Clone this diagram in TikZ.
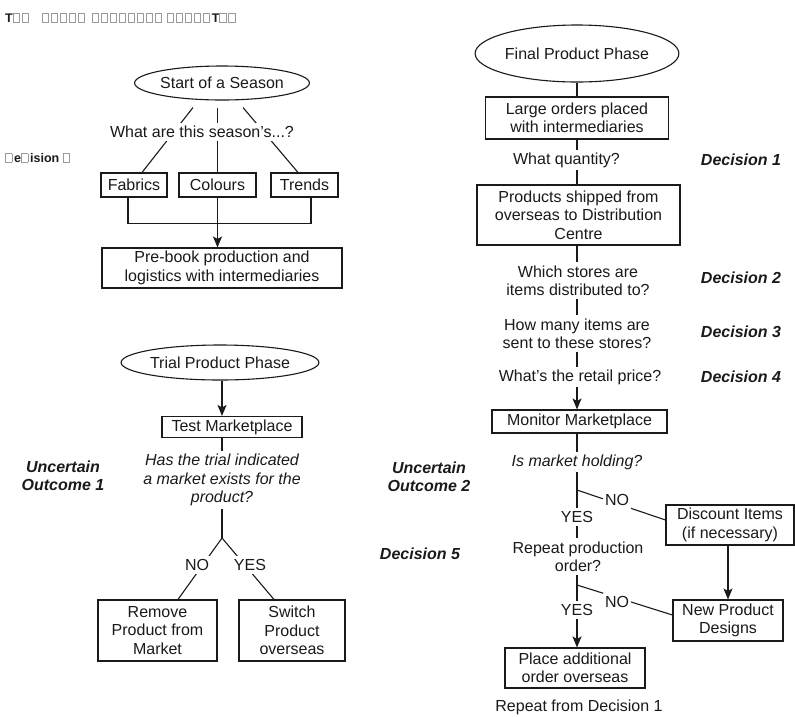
\documentclass[tikz,border=0pt]{standalone}
\usepackage{fontspec}
\setmainfont{Liberation Sans}
\usetikzlibrary{arrows.meta,calc,shapes.geometric}
\definecolor{ink}{HTML}{1A1A1A}
\definecolor{tofugray}{HTML}{9A9A9A}
% placeholder box for a glyph the font could not supply
\newcommand\tofu{{\color{tofugray}\fboxsep=0pt\fboxrule=0.6pt\fbox{\rule{0pt}{8pt}\hspace{6pt}}}\kern1.8pt}
\newcommand\bodyfont{\fontsize{16}{18.4}\selectfont}

\begin{document}
\begin{tikzpicture}[x=1pt,y=-1pt,
  every node/.style={font=\bodyfont, text=ink},
  conn/.style={draw=ink, line width=1.1pt},
  arr/.style={conn, -{Stealth[length=11pt,width=9pt,inset=2.5pt]}},
  box/.style={draw=ink, line width=1.1pt, align=center, inner sep=0pt},
  oval/.style={draw=ink, line width=1.1pt, ellipse, inner sep=0pt},
  lbl/.style={fill=white, align=center, inner xsep=2pt, inner ysep=3pt},
  quest/.style={lbl, font=\bodyfont\itshape},
  dec/.style={align=center, font=\bodyfont\bfseries\itshape},
  tofutext/.style={anchor=base west, inner sep=0pt, font=\fontsize{12.5}{14}\selectfont\bfseries},
]
\fill[white] (0,0) rectangle (795,716);
\useasboundingbox (0,0) rectangle (795,716);

% ---------- heading ----------
\node[tofutext] (title) at (5,22)
  {T\tofu\tofu\hspace{11pt}\tofu\tofu\tofu\tofu\tofu\hspace{5pt}\tofu\tofu\tofu\tofu\tofu\tofu\tofu\tofu\hspace{3pt}\tofu\tofu\tofu\tofu\tofu T\tofu\tofu};
\node[tofutext] (dec0) at (5,162) {\tofu e\tofu ision \tofu};

% ---------- season start ----------
\node[oval, minimum width=165, minimum height=34] (start) at (222,83) {Start of a Season};
\node[box, minimum width=66, minimum height=24] (fab) at (134,185) {Fabrics};
\node[box, minimum width=77, minimum height=24] (col) at (217.5,185) {Colours};
\node[box, minimum width=67, minimum height=24] (tre) at (304.5,185) {Trends};
\node[box, minimum width=240, minimum height=40] (pre) at (222,268) {Pre-book production and\\logistics with intermediaries};

\draw[conn] ($(start.south)+(-29,7)$) -- ($(fab.north)+(8,0)$);
\draw[conn] ($(start.south)+(-4.5,7)$) -- (col.north);
\draw[conn] ($(start.south)+(21,7)$) -- ($(tre.north)+(-6.5,0)$);
\draw[conn] ($(fab.south)+(-6,0)$) -- ++(0,26) -| ($(tre.south)+(6.5,0)$);
\draw[arr] (col.south) -- (col.south |- pre.north);
\node[lbl] (whatare) at (202,132) {What are this season’s...?};

% ---------- trial phase ----------
\node[oval, minimum width=176, minimum height=35] (trial) at (220,362.5) {Trial Product Phase};
\node[box, minimum width=140, minimum height=21] (test) at (232,427) {Test Marketplace};
\node[box, minimum width=119, minimum height=61] (rem) at (157.5,630.5) {Remove\\Product from\\Market};
\node[box, minimum width=106, minimum height=61] (sw) at (292,630.5) {Switch\\Product\\overseas};
\coordinate (j1) at (222,538);

\draw[arr] ($(trial.south)+(2,0)$) -- ($(test.north)+(-10,0)$);
\draw[conn] ($(test.south)+(-10,0)$) -- (j1);
\draw[conn] (j1) -- ($(rem.north)+(20.5,0)$);
\draw[conn] (j1) -- ($(sw.north)+(-18,0)$);
\node[quest] (q1) at (222,480) {Has the trial indicated\\a market exists for the\\product?};
\node[lbl] (no1) at (197,565) {NO};
\node[lbl] (yes1) at (250,565) {YES};
\node[dec] (u1) at (63,476) {Uncertain\\Outcome 1};

% ---------- final phase ----------
\coordinate (sp) at (577,0);
\node[oval, minimum width=180, minimum height=57] (final) at (577,53.5) {Final Product Phase};
\node[box, minimum width=183, minimum height=42] (large) at (577,118) {Large orders placed\\with intermediaries};
\node[box, minimum width=203, minimum height=60] (prod) at (578.5,215) {Products shipped from\\overseas to Distribution\\Centre};
\node[box, minimum width=175, minimum height=23] (mon) at (579.5,421.5) {Monitor Marketplace};
\node[box, minimum width=128, minimum height=40] (disc) at (730,525) {Discount Items\\(if necessary)};
\node[box, minimum width=110, minimum height=41] (npd) at (728,620.5) {New Product\\Designs};
\node[box, minimum width=140, minimum height=40] (place) at (575,668) {Place additional\\order overseas};
\coordinate (b1) at (577,490);
\coordinate (b2) at (577,585);

\draw[conn] (final.south -| sp) -- (large.north -| sp);
\draw[conn] (large.south -| sp) -- (prod.north -| sp);
\draw[arr] (prod.south -| sp) -- (mon.north -| sp);
\draw[arr] (mon.south -| sp) -- (place.north -| sp);
\draw[conn] (b1) -- ($(disc.west)+(0,-5)$);
\draw[conn] (b2) -- ($(npd.west)+(0,-5.5)$);
\draw[arr] (npd.north |- disc.south) -- (npd.north);

\node[lbl] (whatq) at (566.5,160) {What quantity?};
\node[lbl] (which) at (578,280.5) {Which stores are\\items distributed to?};
\node[lbl] (howmany) at (577,333.5) {How many items are\\sent to these stores?};
\node[lbl] (price) at (580,377) {What’s the retail price?};
\node[quest] (hold) at (577,462) {Is market holding?};
\node[lbl] (yes2) at (577,517) {YES};
\node[lbl] (no2) at (617,500) {NO};
\node[lbl] (repeat) at (578,556.5) {Repeat production\\order?};
\node[lbl] (yes3) at (577,610) {YES};
\node[lbl] (no3) at (617,602) {NO};
\node (again) at (579,707) {Repeat from Decision 1};

\node[dec] (d1) at (741,160) {Decision 1};
\node[dec] (d2) at (741,278) {Decision 2};
\node[dec] (d3) at (741,332) {Decision 3};
\node[dec] (d4) at (741,377) {Decision 4};
\node[dec] (d5) at (420,554) {Decision 5};
\node[dec] (u2) at (429,477) {Uncertain\\Outcome 2};
\end{tikzpicture}
\end{document}
